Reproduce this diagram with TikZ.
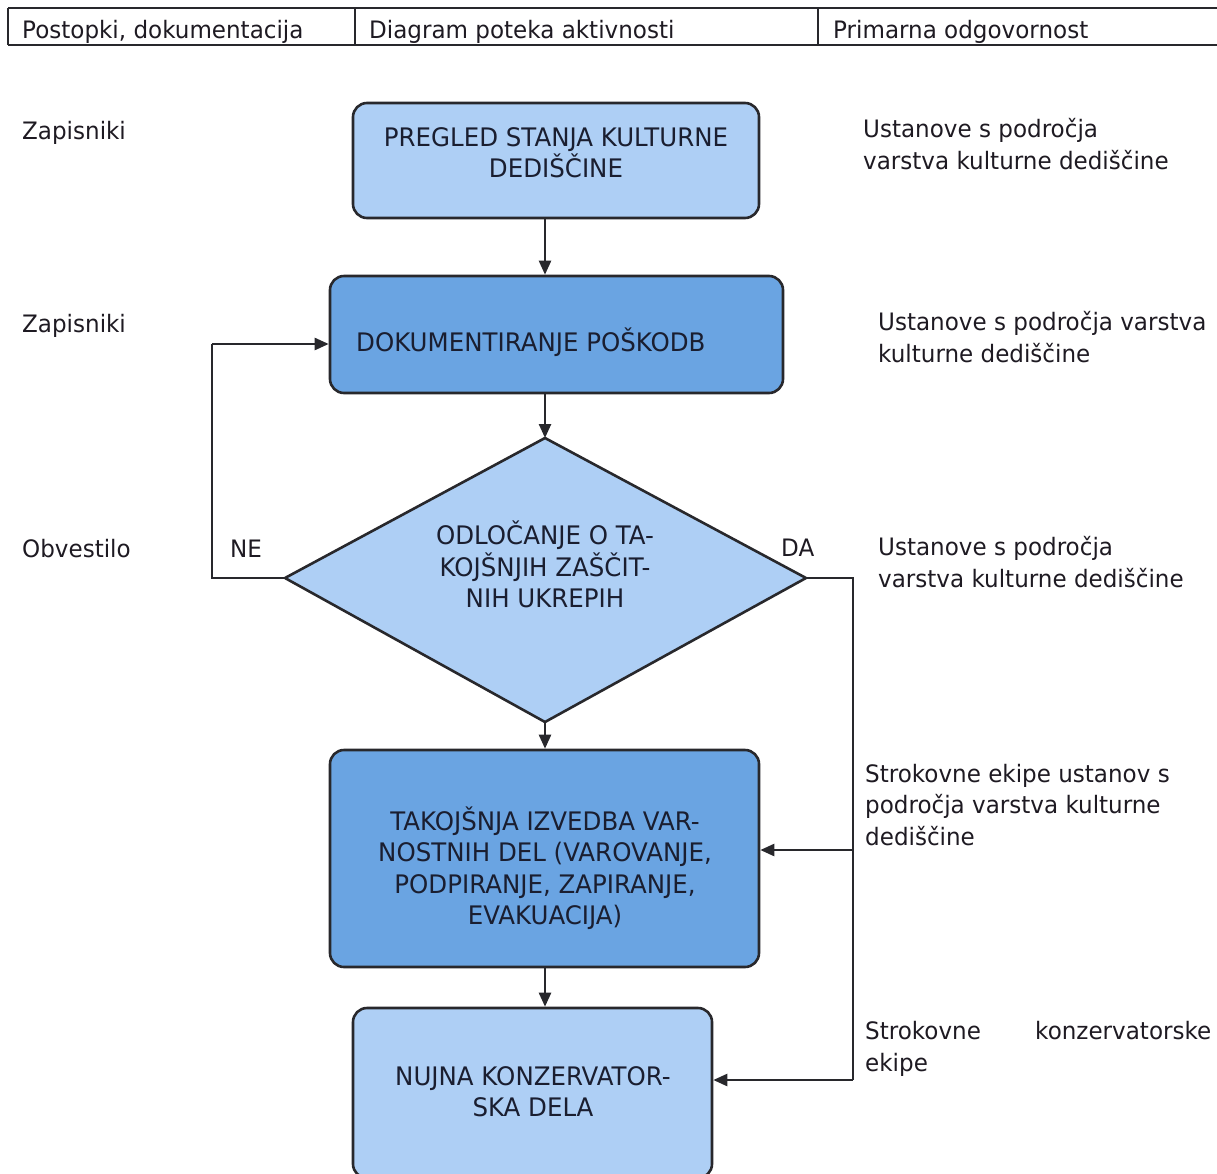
\documentclass[tikz,border=0pt]{standalone}
\usepackage{fontspec}
\setmainfont{DejaVu Sans}[FakeStretch=0.96]
\usetikzlibrary{arrows.meta}
\definecolor{lightbox}{RGB}{174,207,245}
\definecolor{darkbox}{RGB}{106,164,226}
\definecolor{edge}{RGB}{40,40,44}
\definecolor{ink}{RGB}{26,30,48}
\definecolor{labink}{RGB}{30,26,34}
\newcommand\bigf{\fontsize{24}{31.5}\selectfont}
\newcommand\boxf{\fontsize{25.5}{31.5}\selectfont}
\begin{document}
\begin{tikzpicture}[x=1pt,y=-1pt,
  box/.style={draw=edge, line width=2.6pt, rounded corners=14pt, inner sep=0pt},
  lbox/.style={box, fill=lightbox},
  dbox/.style={box, fill=darkbox},
  btext/.style={inner sep=0pt, align=center, font=\boxf, text=ink},
  lab/.style={inner sep=0pt, anchor=base west, align=left, font=\bigf, text=labink},
  conn/.style={draw=edge, line width=2.4pt, -{Triangle[length=14pt,width=12pt]}},
  wire/.style={draw=edge, line width=2.4pt},
  hdr/.style={draw=edge, line width=2.6pt}
]
\useasboundingbox (0,0) rectangle (1217,1173);
% header
\draw[hdr] (8,8) -- (1230,8);
\draw[hdr] (8,45) -- (1230,45);
\draw[hdr] (8,8) -- (8,45);
\draw[hdr] (355,8) -- (355,45);
\draw[hdr] (818,8) -- (818,45);
\node[lab] (h1) at (22,38) {Postopki, dokumentacija};
\node[lab] (h2) at (369,38) {Diagram poteka aktivnosti};
\node[lab] (h3) at (833,38) {Primarna odgovornost};

% boxes
\node[lbox, minimum width=406pt, minimum height=115pt] (b1) at (556,160.5) {};
\node[btext] (b1t) at (556,152.5) {PREGLED STANJA KULTURNE\\DEDIŠČINE};
\node[dbox, minimum width=453pt, minimum height=117pt] (b2) at (556.5,334.5) {};
\node[btext, anchor=west] (b2t) at (356,342) {DOKUMENTIRANJE POŠKODB};
\node[dbox, minimum width=429pt, minimum height=217pt] (b3) at (544.5,858.5) {};
\node[btext] (b3t) at (545,868) {TAKOJŠNJA IZVEDBA VAR-\\NOSTNIH DEL (VAROVANJE,\\PODPIRANJE, ZAPIRANJE,\\EVAKUACIJA)};
\node[lbox, minimum width=359pt, minimum height=170pt] (b4) at (532.5,1093) {};
\node[btext] (b4t) at (533,1091.5) {NUJNA KONZERVATOR-\\SKA DELA};

% diamond
\coordinate (dT) at (545,438);
\coordinate (dR) at (806,578);
\coordinate (dB) at (545,722);
\coordinate (dL) at (285,578);
\draw[draw=edge, line width=2.6pt, fill=lightbox, line join=round] (dT) -- (dR) -- (dB) -- (dL) -- cycle;
\node[btext] (dtext) at (545,564.5) {ODLOČANJE O TA-\\KOJŠNJIH ZAŠČIT-\\NIH UKREPIH};

% main flow
\coordinate (axis) at (545,0);
\draw[conn] (b1.south -| axis) -- (b2.north -| axis);
\draw[conn] (b2.south -| axis) -- (dT);
\draw[conn] (dB) -- (b3.north -| axis);
\draw[conn] (b3.south -| axis) -- (b4.north -| axis);

% NE loop
\coordinate (neC) at (212,578);
\coordinate (neT) at (212,344);
\draw[wire] (dL) -- (neC) -- (neT);
\draw[conn] (neT) -- (neT -| b2.west);

% DA branch
\coordinate (daC) at (853,578);
\coordinate (daM) at (853,850);
\coordinate (daB) at (853,1080);
\draw[wire] (dR) -- (daC) -- (daB);
\draw[conn] (daM) -- (daM -| b3.east);
\draw[conn] (daB) -- (daB -| b4.east);

% left labels
\node[lab] (l1) at (22,139) {Zapisniki};
\node[lab] (l2) at (22,332) {Zapisniki};
\node[lab] (l3) at (22,557) {Obvestilo};
\node[lab] (ne) at (230,557) {NE};
\node[lab] (da) at (781,556) {DA};

% right labels (base = baseline of the last line)
\node[lab] (r1) at (863,169) {Ustanove s področja\\varstva kulturne dediščine};
\node[lab] (r2) at (878,362) {Ustanove s področja varstva\\kulturne dediščine};
\node[lab] (r3) at (878,587) {Ustanove s področja\\varstva kulturne dediščine};
\node[lab] (r4) at (865,845) {Strokovne ekipe ustanov s\\področja varstva kulturne\\dediščine};
\node[lab] (r5) at (865,1071) {\makebox[170pt][l]{Strokovne}konzervatorske\\ekipe};
\end{tikzpicture}
\end{document}
